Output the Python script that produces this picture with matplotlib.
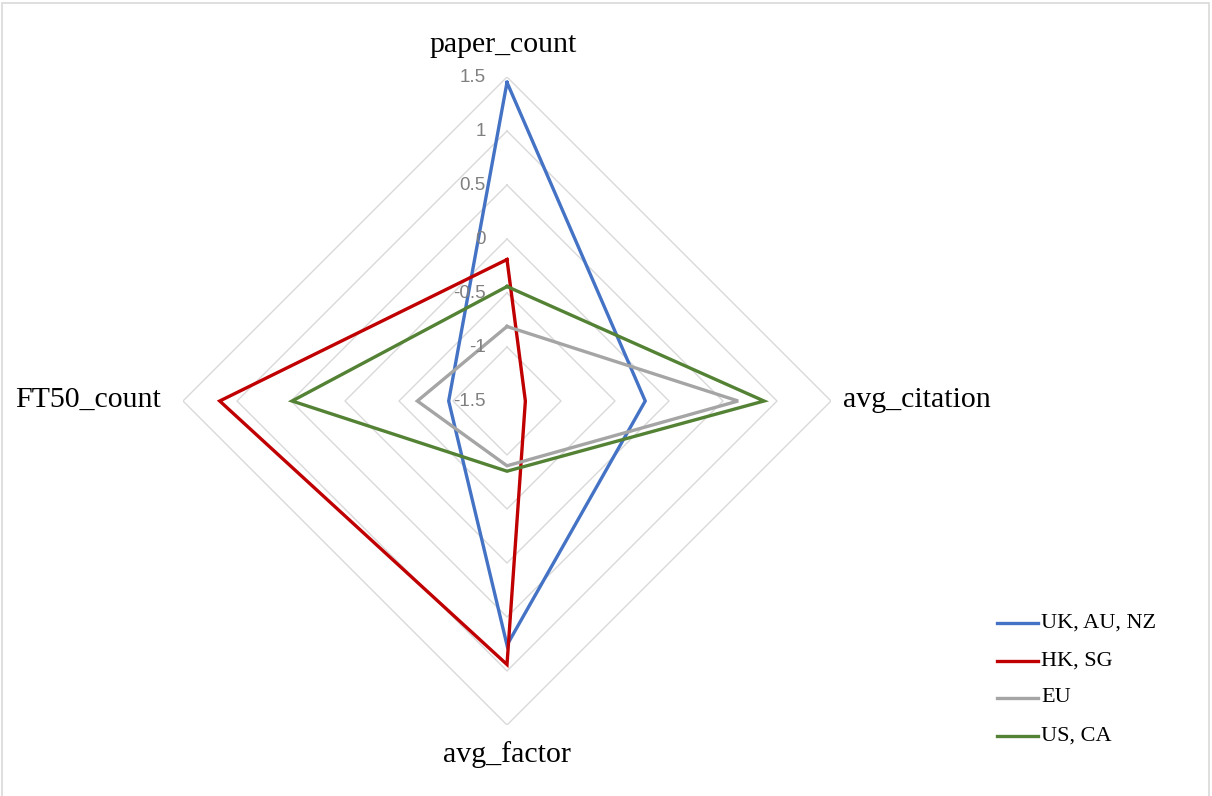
import matplotlib
matplotlib.use("Agg")
import matplotlib.pyplot as plt
import numpy as np
from matplotlib.lines import Line2D
from matplotlib.patches import Rectangle
from matplotlib.transforms import ScaledTranslation

# standardized scores per region group
metrics = ["paper_count", "avg_citation", "avg_factor", "FT50_count"]
uk_au_nz = [1.45, -0.22, 0.76, -0.96]
hk_sg = [-0.19, -1.33, 0.94, 1.16]
eu = [-0.81, 0.64, -0.90, -0.67]
us_ca = [-0.44, 0.88, -0.85, 0.49]

series_names = ["UK, AU, NZ", "HK, SG", "EU", "US, CA"]
series_values = [uk_au_nz, hk_sg, eu, us_ca]
colors = ["#4472C4", "#C00000", "#A5A5A5", "#548235"]

grid_levels = [-1, -0.5, 0, 0.5, 1, 1.5]
tick_values = [1.5, 1, 0.5, 0, -0.5, -1, -1.5]
tick_labels = ["1.5", "1", "0.5", "0", "-0.5", "-1", "-1.5"]
r_min, r_max = -1.5, 1.5

W, H = 1212, 796
fig = plt.figure(figsize=(W / 100, H / 100), dpi=100)

cx, cy, rad = 507, 401, 324
ax = fig.add_axes([(cx - rad) / W, (H - cy - rad) / H, 2 * rad / W, 2 * rad / H],
                  projection="polar")
ax.set_theta_offset(np.pi / 2)
ax.set_theta_direction(-1)
ax.set_ylim(r_min, r_max)
ax.grid(False)
ax.spines["polar"].set_visible(False)
ax.set_xticks([])
ax.set_yticks([])
ax.patch.set_visible(False)

angles = np.linspace(0, 2 * np.pi, len(metrics), endpoint=False)
closed = np.append(angles, angles[0])

# diamond gridlines
for lvl in grid_levels:
    ax.plot(closed, [lvl] * len(closed), color="#D9D9D9", lw=1.0, zorder=1)

for name, vals, col in zip(series_names, series_values, colors):
    v = list(vals) + [vals[0]]
    ax.plot(closed, v, color=col, lw=2.4, label=name, zorder=3,
            solid_joinstyle="miter")

# radial value labels beside the top axis
offset = ScaledTranslation(-21 / 100, 0, fig.dpi_scale_trans)
for val, lab in zip(tick_values, tick_labels):
    ax.text(0, val, lab, transform=ax.transData + offset, ha="right", va="center",
            fontsize=13.5, color="#808080", family="Liberation Sans", zorder=4)

serif = "Liberation Serif"
fig.text(503 / W, 1 - 45 / H, metrics[0], ha="center", va="center",
         fontsize=21.5, family=serif)
fig.text(843 / W, 1 - 400 / H, metrics[1], ha="left", va="center",
         fontsize=21.5, family=serif)
fig.text(507 / W, 1 - 755 / H, metrics[2], ha="center", va="center",
         fontsize=21.5, family=serif)
fig.text(161 / W, 1 - 400 / H, metrics[3], ha="right", va="center",
         fontsize=21.5, family=serif)

# legend
row_y = [623, 661, 698, 736]
for name, col, y in zip(series_names, colors, row_y):
    fig.add_artist(Line2D([997 / W, 1038 / W], [1 - y / H, 1 - y / H],
                          color=col, lw=2.4))
    fig.text(1041 / W, 1 - y / H, name, ha="left", va="center",
             fontsize=16, family=serif)

fig.add_artist(Rectangle((2.5 / W, -0.02), (1209 - 2.5) / W, 1 - 2.5 / H + 0.02,
                         transform=fig.transFigure, fill=False,
                         edgecolor="#D9D9D9", lw=1.2))

fig.savefig("out.png", dpi=100)
